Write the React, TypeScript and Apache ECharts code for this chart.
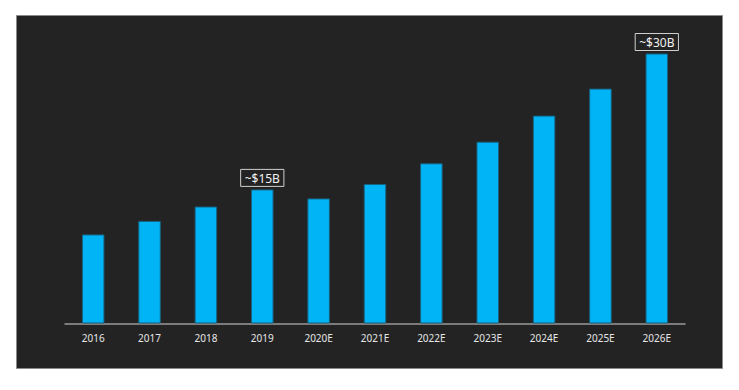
import React, { useEffect, useRef } from "react";
import * as echarts from "echarts";

const categories = ["2016", "2017", "2018", "2019", "2020E", "2021E", "2022E", "2023E", "2024E", "2025E", "2026E"];
const values = [9.9, 11.4, 13.0, 14.9, 13.9, 15.5, 17.8, 20.2, 23.1, 26.1, 30.0];
const callouts = ["", "", "", "~$15B", "", "", "", "", "", "", "~$30B"];

export default function App() {
  const ref = useRef<HTMLDivElement>(null);
  useEffect(() => {
    if (!ref.current) return;
    const chart = echarts.init(ref.current, undefined, { renderer: "svg" });
    const font = "'Noto Sans', 'Open Sans', sans-serif";
    chart.setOption({
      animation: false,
      backgroundColor: "#ffffff",
      graphic: [
        {
          type: "rect",
          z: -10,
          shape: { x: 16.5, y: 15.5, width: 706, height: 353 },
          style: { fill: "#232323", stroke: "#8a8a8a", lineWidth: 1 },
          silent: true,
        },
      ],
      grid: { left: 65, right: 54, top: 53.5, bottom: 66.5, containLabel: false },
      xAxis: {
        type: "category",
        data: categories,
        axisLine: { show: true, lineStyle: { color: "#9a9a9a", width: 1.5 } },
        axisTick: { show: false },
        axisLabel: { color: "#e6e6e6", fontSize: 10, margin: 9, fontFamily: font },
      },
      yAxis: {
        type: "value",
        min: 0,
        max: 30,
        show: false,
        splitLine: { show: false },
      },
      series: [
        {
          type: "bar",
          barWidth: "40%",
          itemStyle: { color: "#00b4f6", borderColor: "#17607e", borderWidth: 1 },
          data: values.map((v, i) => ({
            value: v,
            label: callouts[i]
              ? {
                  show: true,
                  position: "top",
                  distance: 3,
                  formatter: callouts[i],
                  color: "#f2f2f2",
                  fontSize: 12,
                  fontFamily: font,
                  borderColor: "#cfcfcf",
                  borderWidth: 1,
                  padding: [2, 4, 1, 4],
                  lineHeight: 14,
                }
              : { show: false },
          })),
        },
      ],
    });
    return () => chart.dispose();
  }, []);
  return (
    <div
      ref={ref}
      style={{ position: "fixed", left: 0, top: 0, width: 739, height: 390 }}
    />
  );
}
